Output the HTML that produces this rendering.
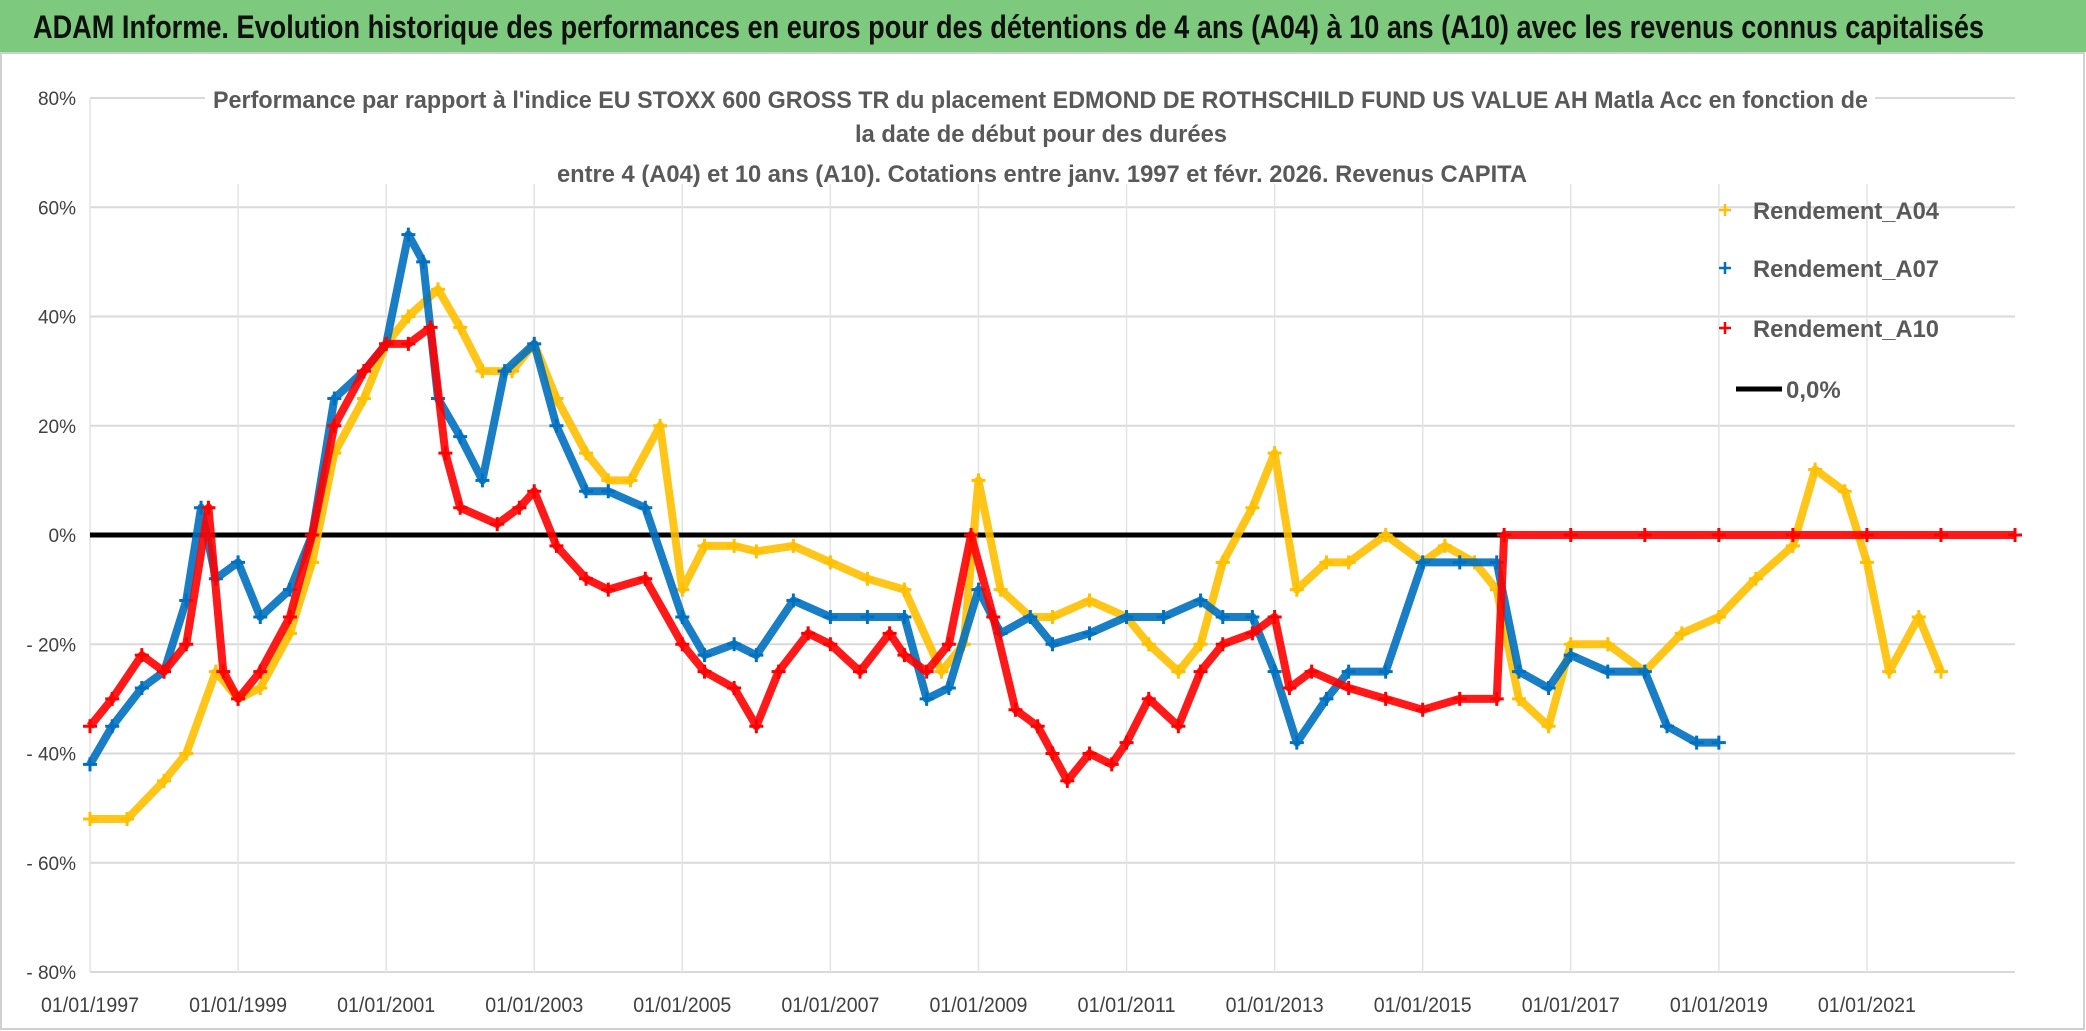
<!DOCTYPE html>
<html><head><meta charset="utf-8"><style>
html,body{margin:0;padding:0;background:#fff;}
svg{display:block;font-family:"Liberation Sans",sans-serif;}
</style></head><body>
<svg id="chart" width="2086" height="1031" viewBox="0 0 2086 1031">
<rect x="0" y="0" width="2086" height="52" fill="#7dc97d"/>
<text x="33" y="38" font-size="32" font-weight="bold" fill="#111" textLength="1951" lengthAdjust="spacingAndGlyphs">ADAM Informe. Evolution historique des performances en euros pour des détentions de 4 ans (A04) à 10 ans (A10) avec les revenus connus capitalisés</text>
<rect x="1" y="53" width="2083" height="976" fill="none" stroke="#d0d0d0" stroke-width="2"/>
<g id="grid"></g>
<g id="series"></g>
<g fill="#595959" font-size="24" font-weight="bold">
<rect x="205" y="84" width="1670" height="100" fill="#fff"/>
<text x="213" y="108" textLength="1655" lengthAdjust="spacingAndGlyphs">Performance par rapport à l'indice EU STOXX 600 GROSS TR  du placement EDMOND DE ROTHSCHILD FUND US VALUE AH Matla Acc en fonction de</text>
<text x="855" y="142" textLength="372" lengthAdjust="spacingAndGlyphs">la date de début pour des durées</text>
<text x="557" y="182" textLength="970" lengthAdjust="spacingAndGlyphs">entre 4 (A04) et 10 ans (A10). Cotations entre janv. 1997 et févr. 2026. Revenus CAPITA</text>
</g>
<g id="legend" font-size="24" font-weight="bold" fill="#595959"></g>
</svg>
<script>
const yTicks=[80,60,40,20,0,-20,-40,-60,-80];
const xTickYears=[1997,1999,2001,2003,2005,2007,2009,2011,2013,2015,2017,2019,2021];
const a04Years=[1997,1997.5,1998,1998.3,1998.7,1999,1999.3,1999.7,2000,2000.3,2000.7,2001,2001.3,2001.7,2002,2002.3,2002.7,2003,2003.3,2003.7,2004,2004.3,2004.7,2005,2005.3,2005.7,2006,2006.5,2007,2007.5,2008,2008.5,2008.8,2009,2009.3,2009.7,2010,2010.5,2011,2011.3,2011.7,2012,2012.3,2012.7,2013,2013.3,2013.7,2014,2014.5,2015,2015.3,2015.7,2016,2016.3,2016.7,2017,2017.5,2018,2018.5,2019,2019.5,2020,2020.3,2020.7,2021,2021.3,2021.7,2022];
const a04Values=[-52,-52,-45,-40,-25,-30,-28,-18,-5,15,25,35,40,45,38,30,30,35,25,15,10,10,20,-10,-2,-2,-3,-2,-5,-8,-10,-25,-20,10,-10,-15,-15,-12,-15,-20,-25,-20,-5,5,15,-10,-5,-5,0,-5,-2,-5,-10,-30,-35,-20,-20,-25,-18,-15,-8,-2,12,8,-5,-25,-15,-25];
const a07Years=[1997,1997.3,1997.7,1998,1998.3,1998.5,1998.7,1999,1999.3,1999.7,2000,2000.3,2000.7,2001,2001.3,2001.5,2001.7,2002,2002.3,2002.6,2003,2003.3,2003.7,2004,2004.5,2005,2005.3,2005.7,2006,2006.5,2007,2007.5,2008,2008.3,2008.6,2009,2009.3,2009.7,2010,2010.5,2011,2011.5,2012,2012.3,2012.7,2013,2013.3,2013.7,2014,2014.5,2015,2015.5,2016,2016.3,2016.7,2017,2017.5,2018,2018.3,2018.7,2019];
const a07Values=[-42,-35,-28,-25,-12,5,-8,-5,-15,-10,0,25,30,35,55,50,25,18,10,30,35,20,8,8,5,-15,-22,-20,-22,-12,-15,-15,-15,-30,-28,-10,-18,-15,-20,-18,-15,-15,-12,-15,-15,-25,-38,-30,-25,-25,-5,-5,-5,-25,-28,-22,-25,-25,-35,-38,-38];
const a10Years=[1997,1997.3,1997.7,1998,1998.3,1998.6,1998.8,1999,1999.3,1999.7,2000,2000.3,2000.7,2001,2001.3,2001.6,2001.8,2002,2002.5,2002.8,2003,2003.3,2003.7,2004,2004.5,2005,2005.3,2005.7,2006,2006.3,2006.7,2007,2007.4,2007.8,2008,2008.3,2008.6,2008.9,2009.2,2009.5,2009.8,2010,2010.2,2010.5,2010.8,2011,2011.3,2011.7,2012,2012.3,2012.7,2013,2013.2,2013.5,2014,2014.5,2015,2015.5,2016,2016.1,2017,2018,2019,2020,2021,2022,2023];
const a10Values=[-35,-30,-22,-25,-20,5,-25,-30,-25,-15,0,20,30,35,35,38,15,5,2,5,8,-2,-8,-10,-8,-20,-25,-28,-35,-25,-18,-20,-25,-18,-22,-25,-20,0,-15,-32,-35,-40,-45,-40,-42,-38,-30,-35,-25,-20,-18,-15,-28,-25,-28,-30,-32,-30,-30,0,0,0,0,0,0,0,0];
const seriesNames=["Rendement_A04","Rendement_A07","Rendement_A10"];
const seriesColors=["#ffc000","#0070c0","#ff0000"];

const NS="http://www.w3.org/2000/svg";
const X0=90,X1=2015,Y80=98,Y80n=972;
const x=yr=>X0+(yr-1997)*(X1-X0)/(2023-1997);
const y=v=>Y80+(80-v)*(Y80n-Y80)/160;
function mk(tag,attrs,parent){const e=document.createElementNS(NS,tag);for(const k in attrs)e.setAttribute(k,attrs[k]);parent.appendChild(e);return e;}
const grid=document.getElementById('grid');
yTicks.forEach(t=>{
  const l=mk('line',{x1:X0,x2:X1,y1:y(t),y2:y(t),stroke:'#d9d9d9','stroke-width':2},grid);
  
  
  const tx=mk('text',{x:76,y:y(t)+7,'text-anchor':'end','font-size':19,fill:'#404040'},grid);
  tx.textContent=(t<0?'- '+(-t):t)+'%';
  
  
});
xTickYears.forEach(t=>{
  const l=mk('line',{x1:x(t),x2:x(t),y1:Y80,y2:Y80n,stroke:'#e3e3e3','stroke-width':1.5},grid);
  
  
  const tx=mk('text',{x:x(t),y:1012,'text-anchor':'middle','font-size':21,fill:'#404040',textLength:98,lengthAdjust:'spacingAndGlyphs'},grid);
  tx.textContent='01/01/'+t;
  
  
});
const ser=document.getElementById('series');
const zl=mk('line',{x1:X0,x2:x(2016.1),y1:y(0),y2:y(0),stroke:'#000','stroke-width':5},ser);


const data=[[a04Years,a04Values],[a07Years,a07Values],[a10Years,a10Values]];
data.forEach((d,i)=>{
  const g=mk('g',{},ser);
  
  
  const pts=d[0].map((yr,k)=>x(yr)+','+y(d[1][k])).join(' ');
  mk('polyline',{points:pts,fill:'none',stroke:seriesColors[i],'stroke-width':8,'stroke-linejoin':'round','stroke-opacity':0.9},g);
  d[0].forEach((yr,k)=>{
    const px=x(yr),py=y(d[1][k]);
    const p=mk('path',{d:`M${px-7},${py}H${px+7}M${px},${py-7}V${py+7}`,stroke:seriesColors[i],'stroke-width':3},g);
    
    
  });
});
const lg=document.getElementById('legend');
seriesNames.forEach((n,i)=>{
  const yy=[210,268,328][i];
  const m=mk('path',{d:`M1719,${yy}h12M1725,${yy-6}v12`,stroke:seriesColors[i],'stroke-width':2.5},lg);
  
  
  const t=mk('text',{x:1753,y:yy+9,textLength:186,lengthAdjust:'spacingAndGlyphs'},lg);
  t.textContent=n;
  
  
});
const zl2=mk('line',{x1:1736,x2:1782,y1:389,y2:389,stroke:'#000','stroke-width':5},lg);


const zt=mk('text',{x:1786,y:398},lg);
zt.textContent='0,0%';


</script>
</body></html>
